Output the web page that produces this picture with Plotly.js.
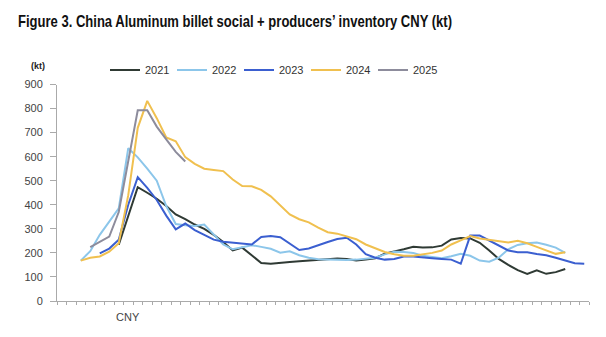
<!DOCTYPE html>
<html>
<head>
<meta charset="utf-8">
<script src="https://cdn.plot.ly/plotly-3.0.1.min.js"></script>
<style>
html,body{margin:0;padding:0;background:#fff;}
#chart{width:606px;height:337px;}
</style>
</head>
<body>
<div id="chart"></div>
<script>
// Weeks relative to Chinese New Year (CNY = 0)
var weeksFromCNY = [-7,-6,-5,-4,-3,-2,-1,0,1,2,3,4,5,6,7,8,9,10,11,12,13,14,15,16,17,18,19,20,21,22,23,24,25,26,27,28,29,30,31,32,33,34,35,36,37,38,39,40,41,42,43,44,45,46,47,48];
var xTickLabel = "CNY";
var seriesNames = ["2021","2022","2023","2024","2025"];

var inv2021 = [null,null,null,null,null,null,234,350,473,450,425,395,360,340,318,300,275,245,210,222,190,158,155,157,162,165,168,172,174,177,175,168,172,178,197,205,215,225,222,223,230,256,262,260,242,210,175,150,128,113,128,113,120,133,null,null];
var inv2022 = [null,null,168,207,275,330,385,635,597,550,500,395,320,315,312,318,275,235,215,222,232,225,217,201,207,190,180,174,172,169,170,172,175,180,194,205,204,200,188,182,178,186,196,188,168,163,180,215,233,240,243,234,222,200,null,null];
var inv2023 = [null,null,null,null,198,218,255,400,515,470,420,355,298,322,295,275,255,246,243,238,235,266,270,265,240,212,218,230,245,258,263,235,195,180,172,175,185,185,180,178,175,172,155,272,272,252,230,210,203,203,195,190,180,170,157,155];
var inv2024 = [null,null,168,180,185,205,240,440,720,832,760,680,664,598,570,550,545,540,505,478,477,462,435,396,360,340,327,305,286,280,270,257,235,218,204,194,188,188,193,200,210,235,252,270,260,255,250,243,250,240,225,210,196,203,null,null];
var inv2025 = [null,null,null,224,245,268,370,590,793,793,725,672,620,580,null,null,null,null,null,null,null,null,null,null,null,null,null,null,null,null,null,null,null,null,null,null,null,null,null,null,null,null,null,null,null,null,null,null,null,null,null,null,null,null,null,null];

var colors = ["#2f3a34","#8cc6ea","#3b5fd0","#f0c04f","#8d8c9c"];
var allSeries = [inv2021, inv2022, inv2023, inv2024, inv2025];

var traces = allSeries.map(function(vals, k){
  return {
    x: weeksFromCNY, y: vals, name: seriesNames[k], type: 'scatter', mode: 'lines',
    line: {color: colors[k], width: 2}, connectgaps: false, hoverinfo: 'skip'
  };
});

// tick marks between categories
var tv = [];
for (var i = 0; i <= weeksFromCNY.length; i++) tv.push(weeksFromCNY[0] - 0.5 + i);
var tt = tv.map(function(){ return ''; });

var font = "'Liberation Sans', Arial, sans-serif";
var plotL = 57, plotW = 532, plotT = 72, plotH = 229;
var layout = {
  width: 606, height: 337,
  paper_bgcolor: '#ffffff', plot_bgcolor: '#ffffff',
  margin: {l: plotL, r: 606 - plotL - plotW, t: plotT, b: 337 - plotT - plotH},
  title: {
    text: "Figure 3. China Aluminum billet social + producers’ inventory CNY (kt)",
    font: {family: "'Liberation Sans', Arial, sans-serif", size: 17, color: '#111', weight: 'bold'},
    xref: 'container', yref: 'container', x: 18/606, xanchor: 'left', y: 1 - 21/337, yanchor: 'middle'
  },
  showlegend: true,
  legend: {
    orientation: 'h', xref: 'container', yref: 'container',
    x: 105/606, xanchor: 'left', y: 1 - 70/337, yanchor: 'middle',
    font: {family: font, size: 11, color: '#333'},
    bgcolor: 'rgba(0,0,0,0)', entrywidth: 22, entrywidthmode: 'pixels',
    traceorder: 'normal', itemwidth: 30
  },
  xaxis: {
    range: [weeksFromCNY[0] - 0.5, weeksFromCNY[weeksFromCNY.length - 1] + 0.5],
    tickmode: 'array', tickvals: tv, ticktext: tt,
    ticks: 'outside', ticklen: 3, tickcolor: '#aaaaaa', tickwidth: 1,
    showline: true, linecolor: '#aaaaaa', linewidth: 1,
    showgrid: false, zeroline: false, fixedrange: true
  },
  yaxis: {
    range: [0, 900], dtick: 100, tick0: 0,
    ticks: 'outside', ticklen: 6, tickcolor: '#aaaaaa', tickwidth: 1,
    showline: true, linecolor: '#aaaaaa', linewidth: 1,
    showgrid: false, zeroline: false, fixedrange: true,
    tickfont: {family: font, size: 11, color: '#444'},
    ticklabelstandoff: 5
  },
  annotations: [
    {text: xTickLabel, xref: 'x', yref: 'paper', x: 0, y: -0.073, xanchor: 'center', yanchor: 'middle',
     showarrow: false, font: {family: font, size: 11, color: '#444'}},
    {text: "(kt)", xref: 'paper', yref: 'paper', x: (38 - plotL)/plotW, y: (plotT + plotH - 52)/plotH,
     xanchor: 'center', yanchor: 'middle',
     showarrow: false, font: {family: font, size: 9, color: '#222', weight: 'bold'}}
  ]
};

Plotly.newPlot('chart', traces, layout, {staticPlot: true, displayModeBar: false}).then(function(gd){
  // condense the title to the narrow width of the original bold condensed face
  var t = gd.querySelector('.gtitle');
  if (t) {
    t.setAttribute('textLength', '434');
    t.setAttribute('lengthAdjust', 'spacingAndGlyphs');
  }
});
</script>
</body>
</html>
